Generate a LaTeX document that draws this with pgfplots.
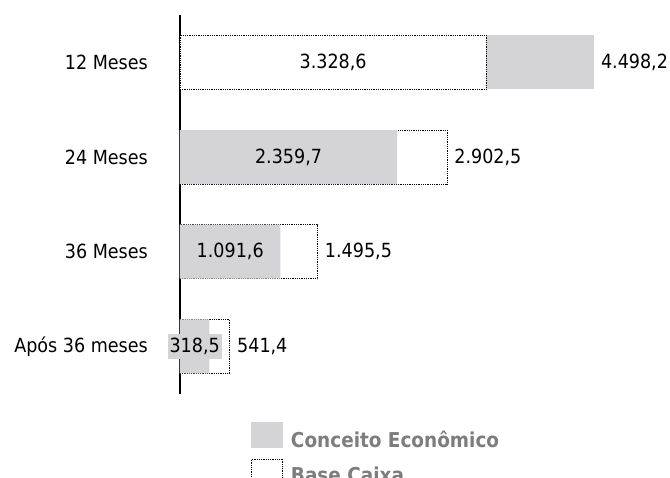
\documentclass[border=0pt]{standalone}
\usepackage{fontspec}
\setmainfont{DejaVu Sans Condensed}
\usepackage{pgfplots}
\pgfplotsset{compat=1.18}
\definecolor{barg}{RGB}{212,212,214}
\definecolor{legtxt}{RGB}{125,125,125}
\begin{document}
\begin{tikzpicture}[font=\fontsize{19.5}{23}\selectfont]
\useasboundingbox (-180pt,15pt) rectangle (490pt,-463pt);
\begin{axis}[
  at={(0,0)}, anchor=north west,
  x=0.092pt, y=94.67pt,
  xmin=0, xmax=5300, ymin=-0.5, ymax=3.5,
  hide x axis, axis y line*=left,
  y axis line style={line width=1.3pt},
  ytick={0,1,2,3},
  yticklabels={Após 36 meses,36 Meses,24 Meses,12 Meses},
  ytick style={draw=none},
  yticklabel style={anchor=east, xshift=-32pt, inner sep=0pt},
  clip=false,
  legend cell align=left,
  legend style={at={(0.1456,-0.0753)}, anchor=north west, draw=none, fill=none,
    inner sep=0pt, row sep=10pt, column sep=8pt,
    font=\fontsize{20.5}{23}\selectfont\bfseries, text=legtxt,
    nodes={inner sep=0pt}},
]
% back bars
\addplot[xbar, bar width=54pt, bar shift=0pt, fill=barg, draw=none, forget plot,
  point meta=explicit symbolic, nodes near coords,
  nodes near coords style={anchor=west, inner sep=2pt, xshift=5pt}]
  coordinates {(4498.2,3) [4.498,2]};
\addplot[xbar, bar width=54pt, bar shift=0pt, fill=white, draw=black, densely dotted, line width=0.8pt, forget plot,
  point meta=explicit symbolic, nodes near coords,
  nodes near coords style={anchor=west, inner sep=2pt, xshift=5pt, solid}]
  coordinates {(2902.5,2) [2.902,5] (1495.5,1) [1.495,5] (541.4,0) [541,4]};
% front bars
\addplot[xbar, bar width=54pt, bar shift=0pt, fill=white, draw=black, densely dotted, line width=0.8pt, forget plot]
  coordinates {(3328.6,3)};
\addplot[xbar, bar width=54pt, bar shift=0pt, fill=barg, draw=none, forget plot]
  coordinates {(2359.7,2) (1091.6,1) (318.5,0)};
% inner labels
\addplot[draw=none, mark=none, forget plot, point meta=explicit symbolic, nodes near coords,
  nodes near coords style={anchor=center}]
  coordinates {(1664.3,3) [3.328,6] (1179.85,2) [2.359,7] (545.8,1) [1.091,6]};
\addplot[draw=none, mark=none, forget plot, point meta=explicit symbolic, nodes near coords,
  nodes near coords style={anchor=center, fill=barg, inner xsep=2pt, inner ysep=4pt}]
  coordinates {(159.25,0) [318,5]};
\addlegendimage{legend image code/.code={\fill[barg] (0pt,-8pt) rectangle (31pt,17pt);}}
\addlegendentry{Conceito Econômico}
\addlegendimage{legend image code/.code={\draw[fill=white, draw=black, densely dotted, line width=0.8pt] (0pt,-8pt) rectangle (31pt,17pt);}}
\addlegendentry{Base Caixa}
\end{axis}
\end{tikzpicture}
\end{document}
